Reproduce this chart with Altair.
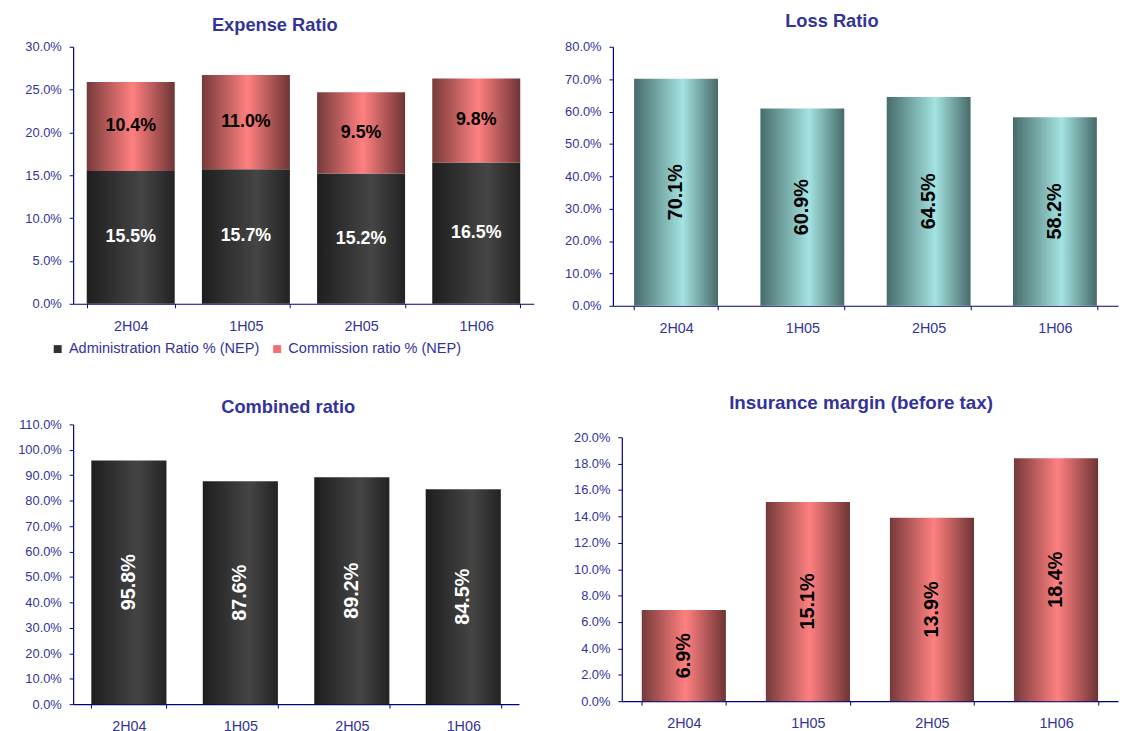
import altair as alt
import pandas as pd

periods = ["2H04", "1H05", "2H05", "1H06"]
admin = [15.5, 15.7, 15.2, 16.5]
commission = [10.4, 11.0, 9.5, 9.8]
loss = [70.1, 60.9, 64.5, 58.2]
combined = [95.8, 87.6, 89.2, 84.5]
margin = [6.9, 15.1, 13.9, 18.4]
series_names = ["Administration Ratio % (NEP)", "Commission ratio % (NEP)"]

expense_ticks = [0, 5, 10, 15, 20, 25, 30]
loss_ticks = [0, 10, 20, 30, 40, 50, 60, 70, 80]
combined_ticks = [0, 10, 20, 30, 40, 50, 60, 70, 80, 90, 100, 110]
margin_ticks = [0, 2, 4, 6, 8, 10, 12, 14, 16, 18, 20]

FONT = "Liberation Sans"
NAVY = "#000080"
BLUE = "#333399"


def grad(c_edge_l, c_mid, c_edge_r, mid=0.6):
    return alt.Gradient(
        gradient="linear",
        x1=0, x2=1, y1=0, y2=0,
        stops=[
            alt.GradientStop(color=c_edge_l, offset=0),
            alt.GradientStop(color=c_mid, offset=mid),
            alt.GradientStop(color=c_edge_r, offset=1),
        ],
    )


DARK = grad("#1e1e1e", "#454545", "#232323", 0.62)
TEAL = grad("#476c6a", "#a3e3e1", "#476a68", 0.58)
PINK = grad("#763a3a", "#ff8080", "#6e3434", 0.52)


def xenc(pad):
    return alt.X(
        "period:N",
        sort=periods,
        title="",
        scale=alt.Scale(paddingInner=pad, paddingOuter=pad / 2),
        axis=alt.Axis(labelAngle=0, tickBand="extent", labelFontSize=14.5,
                      labelPadding=12, tickSize=4),
    )


def yaxis(ticks):
    return alt.Axis(values=ticks, labelExpr="format(datum.value, '.1f') + '%'",
                    labelFontSize=13, tickSize=4, labelPadding=8, grid=False,
                    labelOverlap=False)


def yenc(field, ticks, scale):
    return alt.Y(field, title="", scale=scale, axis=yaxis(ticks))


def title(text, offset, dx, size=18.5):
    return alt.TitleParams(text=text, fontSize=size, font=FONT, fontWeight="bold",
                           color=BLUE, offset=offset, dx=dx, anchor="middle",
                           baseline="alphabetic", frame="group")


# ---- Expense ratio (stacked) ----
exp_df = pd.DataFrame({"period": periods, "admin": admin, "commission": commission})
exp_base = alt.Chart(exp_df).transform_calculate(
    total="datum.admin + datum.commission",
    admin_mid="datum.admin / 2",
    comm_mid="datum.admin + datum.commission / 2",
    admin_lbl="format(datum.admin, '.1f') + '%'",
    comm_lbl="format(datum.commission, '.1f') + '%'",
)
exp_scale = alt.Scale(domain=[0, 30])
EPAD = 0.236
admin_bar = exp_base.mark_bar(color=DARK).encode(
    x=xenc(EPAD), y=yenc("admin:Q", expense_ticks, exp_scale))
comm_bar = exp_base.mark_bar(color=PINK).encode(
    x=xenc(EPAD), y=yenc("admin:Q", expense_ticks, exp_scale), y2="total:Q")
admin_txt = exp_base.mark_text(font=FONT, fontSize=18, fontWeight="bold", color="white").encode(
    x=xenc(EPAD), y=yenc("admin_mid:Q", expense_ticks, exp_scale), text="admin_lbl:N")
comm_txt = exp_base.mark_text(font=FONT, fontSize=18, fontWeight="bold", color="black").encode(
    x=xenc(EPAD), y=yenc("comm_mid:Q", expense_ticks, exp_scale), text="comm_lbl:N")
leg_df = pd.DataFrame({"series": series_names})
legend_layer = alt.Chart(leg_df).mark_square(opacity=0).encode(
    color=alt.Color(
        "series:N",
        sort=series_names,
        scale=alt.Scale(domain=series_names, range=["#303030", "#ee7070"]),
        legend=alt.Legend(orient="none", legendX=-23, legendY=298, direction="horizontal",
                          title=None, symbolType="square", symbolSize=64, symbolOpacity=1,
                          symbolStrokeWidth=0, labelFontSize=14.7, labelFont=FONT,
                          labelColor=BLUE, labelOffset=4, columnPadding=10, labelLimit=400),
    )
)
expense = alt.layer(admin_bar, comm_bar, admin_txt, comm_txt, legend_layer).properties(
    width=466, height=260, title=title("Expense Ratio", -9, -29))


def simple(values, ticks, domain, pad, fill, txtcolor, width, height, ttl, toff, tdx, rng=None,
           tsize=18.5):
    df = pd.DataFrame({"period": periods, "value": values})
    base = alt.Chart(df).transform_calculate(
        mid="datum.value / 2", lbl="format(datum.value, '.1f') + '%'")
    sc = alt.Scale(domain=domain) if rng is None else alt.Scale(domain=domain, range=rng)
    bar = base.mark_bar(color=fill).encode(x=xenc(pad), y=yenc("value:Q", ticks, sc))
    txt = base.mark_text(font=FONT, fontSize=20, fontWeight="bold", color=txtcolor, angle=270).encode(
        x=xenc(pad), y=yenc("mid:Q", ticks, sc), text="lbl:N")
    return alt.layer(bar, txt).properties(width=width, height=height,
                                          title=title(ttl, toff, tdx, tsize))


loss_c = simple(loss, loss_ticks, [0, 80], 0.336, TEAL, "black", 511, 262, "Loss Ratio", -5, -34)
comb_c = simple(combined, combined_ticks, [0, 110], 0.326, DARK, "white", 451, 283,
                "Combined ratio", -13, -8)
marg_c = simple(margin, margin_ticks, [0, 20], 0.322, PINK, "black", 502, 280,
                "Insurance margin (before tax)", -3, -9, rng=[280, 13], tsize=19)

top = alt.hconcat(expense, loss_c, spacing=80, bounds="flush")
bottom = alt.hconcat(comb_c, marg_c, spacing=104, bounds="flush")
chart = alt.vconcat(top, bottom, spacing=59).properties(
    padding={"left": 17, "top": 8, "right": 5, "bottom": 5}
).configure_view(
    stroke=None
).configure_axis(
    domainColor=NAVY, tickColor=NAVY, labelColor=BLUE, labelFont=FONT, domainWidth=1.2
).configure_axisY(
    labelFontSize=13
).configure_axisX(
    labelFontSize=14.5
)

chart.save("out.html", embed_options={"renderer": "svg", "actions": False})
